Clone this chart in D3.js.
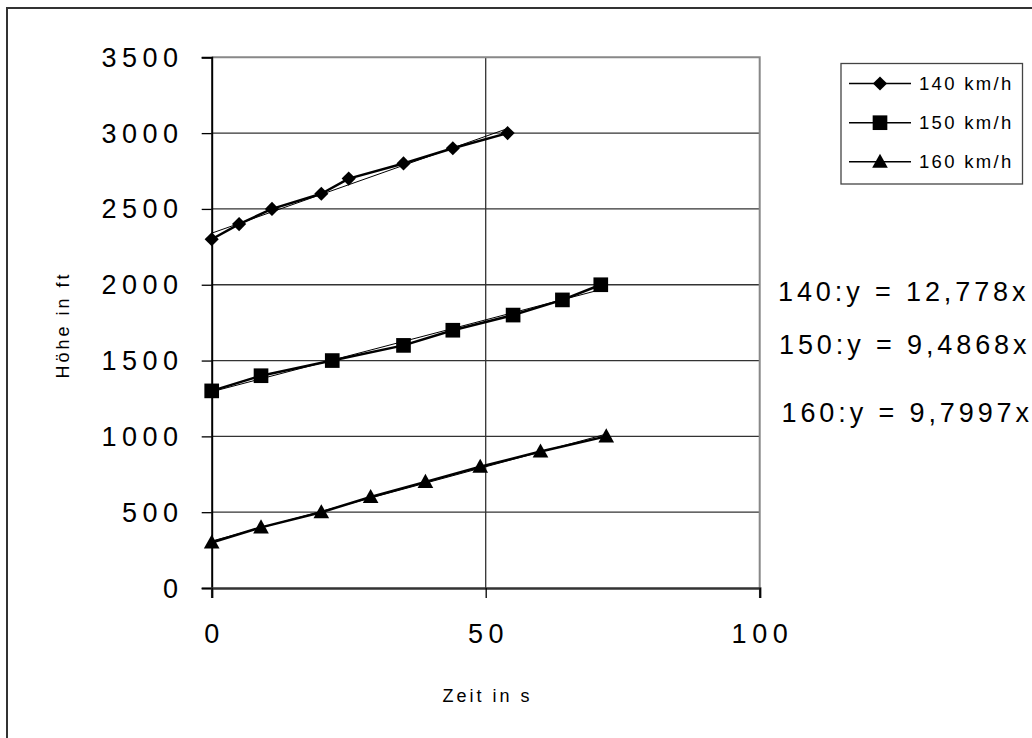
<!DOCTYPE html>
<html><head><meta charset="utf-8">
<script src="https://cdn.jsdelivr.net/npm/d3@7"></script>
<style>
html,body{margin:0;padding:0;background:#fff;}
svg{display:block;}
text{font-family:"Liberation Sans",Arial,sans-serif;fill:#000;}
</style></head>
<body>
<svg id="c" width="1032" height="738"></svg>
<script>
// ---- data ----
const seriesNames = ["140 km/h", "150 km/h", "160 km/h"];
const x140 = [0, 5, 11, 20, 25, 35, 44, 54];
const y140 = [2300, 2400, 2500, 2600, 2700, 2800, 2900, 3000];
const x150 = [0, 9, 22, 35, 44, 55, 64, 71];
const y150 = [1300, 1400, 1500, 1600, 1700, 1800, 1900, 2000];
const x160 = [0, 9, 20, 29, 39, 49, 60, 72];
const y160 = [300, 400, 500, 600, 700, 800, 900, 1000];
const xTicks = [0, 50, 100];
const yTicks = [0, 500, 1000, 1500, 2000, 2500, 3000, 3500];
const equations = ["140:y = 12,778x", "150:y = 9,4868x", "160:y = 9,7997x"];
const xTitle = "Zeit in s";
const yTitle = "Höhe in ft";

const svg = d3.select("#c");
const L = 211.7, R = 759.7, T = 57.3, B = 588;
const x = d3.scaleLinear().domain([0, 100]).range([L, R]);
const y = d3.scaleLinear().domain([0, 3500]).range([B, T]);

// outer border
svg.append("rect").attr("x", 7).attr("y", 8).attr("width", 1040).attr("height", 760)
  .attr("fill", "none").attr("stroke", "#333").attr("stroke-width", 2);

// horizontal gridlines
svg.append("g").selectAll("line").data(yTicks.filter(d => d > 0 && d < 3500)).join("line")
  .attr("x1", L).attr("x2", R).attr("y1", d => y(d)).attr("y2", d => y(d))
  .attr("stroke", "#333").attr("stroke-width", 1.3);
// vertical gridline(s)
svg.append("g").selectAll("line").data(xTicks.filter(d => d > 0 && d < 100)).join("line")
  .attr("x1", d => x(d)).attr("x2", d => x(d)).attr("y1", T).attr("y2", B)
  .attr("stroke", "#333").attr("stroke-width", 1.3);
// plot area top / right border (gray)
svg.append("path").attr("d", `M${L},${T}H${R}V${B}`).attr("fill", "none")
  .attr("stroke", "#888").attr("stroke-width", 2);

// axes
const yAxis = d3.axisLeft(y).tickValues(yTicks).tickSize(10).tickFormat("");
const gy = svg.append("g").attr("transform", `translate(${L},0)`).call(yAxis);
gy.select(".domain").attr("stroke", "#000").attr("stroke-width", 2);
gy.selectAll(".tick line").attr("stroke", "#000").attr("stroke-width", 1.3);
const xAxis = d3.axisBottom(x).tickValues(xTicks).tickSize(10).tickFormat("");
const gx = svg.append("g").attr("transform", `translate(0,${B})`).call(xAxis);
gx.select(".domain").attr("stroke", "#333").attr("stroke-width", 2.5);
gx.selectAll(".tick line").attr("stroke", "#000").attr("stroke-width", 1.3);

// tick labels
svg.append("g").selectAll("text").data(yTicks).join("text")
  .attr("x", 178).attr("y", d => y(d) + 9.5).attr("text-anchor", "end")
  .attr("font-size", 27).attr("letter-spacing", 5.5)
  .attr("dx", 5.5)
  .text(d => d);
svg.append("g").selectAll("text").data(xTicks).join("text")
  .attr("x", d => x(d) + 2.7).attr("y", 643).attr("text-anchor", "middle")
  .attr("font-size", 27).attr("letter-spacing", 5.5)
  .text(d => d);

// axis titles
svg.append("text").attr("x", 486 + 1.5).attr("y", 702).attr("text-anchor", "middle")
  .attr("font-size", 18).attr("letter-spacing", 3).text(xTitle);
svg.append("text").attr("transform", "translate(69,325) rotate(-90)").attr("text-anchor", "middle")
  .attr("font-size", 18).attr("letter-spacing", 3).text(yTitle);

// marker shapes
const diamond = {draw(ctx, size) { // square rotated 45°
  const r = Math.sqrt(size / 2);
  ctx.moveTo(0, -r); ctx.lineTo(r, 0); ctx.lineTo(0, r); ctx.lineTo(-r, 0); ctx.closePath();
}};
const triangle = {draw(ctx, size) { // isosceles, base at bottom
  const w = Math.sqrt(size * 2 / 0.9), h = w * 0.9;
  ctx.moveTo(0, -h / 2 - 1); ctx.lineTo(w / 2, h / 2 - 1); ctx.lineTo(-w / 2, h / 2 - 1); ctx.closePath();
}};

// series
const series = [
  {name: seriesNames[0], xs: x140, ys: y140, shape: diamond, size: 100},
  {name: seriesNames[1], xs: x150, ys: y150, shape: d3.symbolSquare, size: 215},
  {name: seriesNames[2], xs: x160, ys: y160, shape: triangle, size: 110}
];
const line = d3.line().x(d => x(d[0])).y(d => y(d[1]));

function fit(xs, ys) {
  const n = xs.length, mx = d3.mean(xs), my = d3.mean(ys);
  let sxy = 0, sxx = 0;
  for (let i = 0; i < n; i++) { sxy += (xs[i]-mx)*(ys[i]-my); sxx += (xs[i]-mx)**2; }
  const m = sxy / sxx; return {m, b: my - m*mx};
}

series.forEach(s => {
  const pts = s.xs.map((v, i) => [v, s.ys[i]]);
  svg.append("path").attr("d", line(pts)).attr("fill", "none")
    .attr("stroke", "#000").attr("stroke-width", 2.5).attr("stroke-linejoin", "round");
  const f = fit(s.xs, s.ys);
  const x0 = d3.min(s.xs), x1 = d3.max(s.xs);
  svg.append("line").attr("x1", x(x0)).attr("y1", y(f.m*x0 + f.b))
    .attr("x2", x(x1)).attr("y2", y(f.m*x1 + f.b))
    .attr("stroke", "#000").attr("stroke-width", 1);
  svg.append("g").selectAll("path").data(pts).join("path")
    .attr("d", d3.symbol(s.shape, s.size))
    .attr("transform", d => `translate(${x(d[0])},${y(d[1])})`)
    .attr("fill", "#000");
});

// legend
const lg = svg.append("g");
lg.append("rect").attr("x", 841).attr("y", 63.5).attr("width", 181.5).attr("height", 120.5)
  .attr("fill", "#fff").attr("stroke", "#444").attr("stroke-width", 1.3);
const rowY = [83.5, 122.7, 161.7];
series.forEach((s, i) => {
  lg.append("line").attr("x1", 849).attr("x2", 911).attr("y1", rowY[i]).attr("y2", rowY[i])
    .attr("stroke", "#000").attr("stroke-width", 1.5);
  lg.append("path").attr("d", d3.symbol(s.shape, s.size)())
    .attr("transform", `translate(880,${rowY[i]})`).attr("fill", "#000");
  lg.append("text").attr("x", 919).attr("y", rowY[i] + 6.5).attr("font-size", 18.5)
    .attr("letter-spacing", 2.3).text(s.name);
});

// equations
const eqPos = [[778, 301], [779, 354], [781.5, 421.7]];
equations.forEach((e, i) => {
  svg.append("text").attr("x", eqPos[i][0]).attr("y", eqPos[i][1]).attr("font-size", 27)
    .attr("letter-spacing", 3.9).text(e);
});
</script>
</body></html>
